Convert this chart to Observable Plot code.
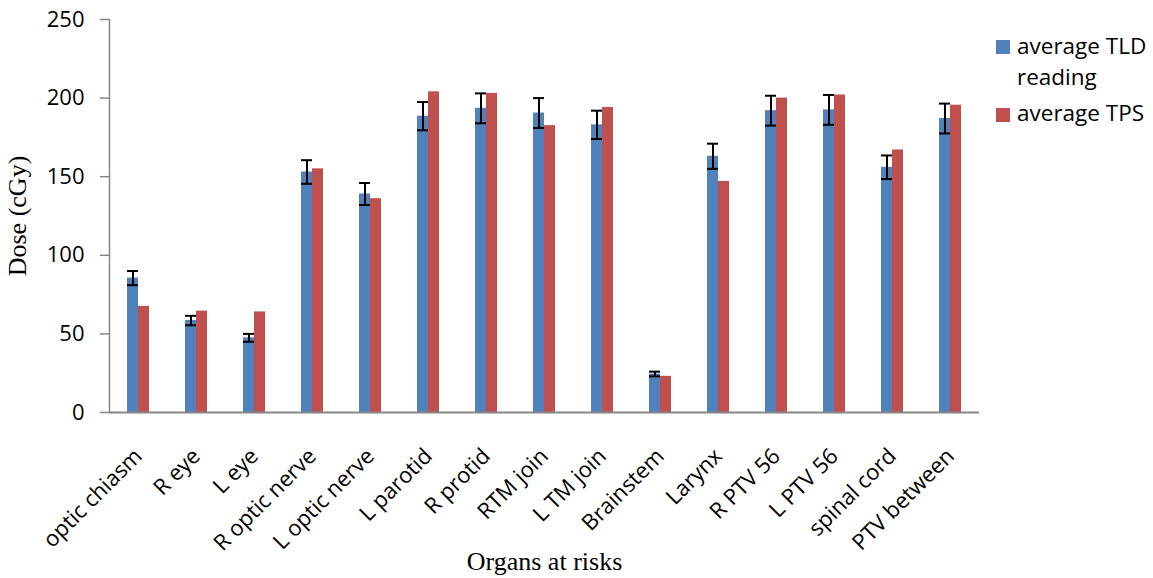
<!DOCTYPE html>
<html>
<head>
<meta charset="utf-8">
<script src="https://cdn.jsdelivr.net/npm/d3@7"></script>
<script src="https://cdn.jsdelivr.net/npm/@observablehq/plot@0.6"></script>
<style>
  html, body { margin: 0; padding: 0; background: #fff; }
  #wrap { position: relative; width: 1153px; height: 578px; overflow: hidden; }
  #legend { position: absolute; left: 996px; top: 30px; font-family: "Open Sans", sans-serif; font-size: 22.5px; line-height: 31px; color: #000; }
  .item { display: flex; align-items: flex-start; }
  .sw { width: 14px; height: 14px; margin-top: 10.25px; margin-right: 7px; flex: none; }
</style>
</head>
<body>
<div id="wrap"><div id="legend"></div></div>
<script>
const organs = ["optic chiasm", "R eye", "L eye", "R optic nerve", "L optic nerve", "L parotid", "R protid", "RTM join", "L TM join", "Brainstem", "Larynx", "R PTV 56", "L PTV 56", "spinal cord", "PTV between"];
const tldValues = [85.5, 58.5, 47.5, 153, 139, 188.5, 193.5, 190.5, 183, 24.5, 163, 192, 192.5, 156, 187];
const tldErrors = [4.5, 3, 2.5, 7.5, 7, 9, 9.5, 9.5, 9, 1.5, 8, 9.5, 9.5, 7.5, 9.5];
const tpsValues = [67.5, 64.5, 64, 155, 136, 204, 203, 182.5, 194, 23, 147, 200, 202, 167, 195.5];
const seriesNames = ["average TLD reading", "average TPS"];
const seriesColors = ["#4F81BD", "#C0504D"];
const legendLabels = ["average TLD<br>reading", "average TPS"];
const yTicks = [0, 50, 100, 150, 200, 250];

const rows = organs.flatMap((o, i) => [
  {organ: o, series: seriesNames[0], value: tldValues[i]},
  {organ: o, series: seriesNames[1], value: tpsValues[i]}
]);
const errRows = organs.map((o, i) => ({organ: o, series: seriesNames[0], lo: tldValues[i] - tldErrors[i], hi: tldValues[i] + tldErrors[i]}));

const axisGray = "#868686";
const chart = Plot.plot({
  width: 1153,
  height: 578,
  marginLeft: 109,
  marginRight: 174,
  marginTop: 19,
  marginBottom: 166,
  style: {background: "transparent", overflow: "visible"},
  fx: {domain: organs, padding: 0},
  x: {type: "band", domain: seriesNames, paddingInner: 0, paddingOuter: 1.5, axis: null},
  y: {domain: [0, 250]},
  color: {domain: seriesNames, range: seriesColors},
  marks: [
    Plot.barY(rows, {fx: "organ", x: "series", y: "value", fill: "series"}),
    Plot.frame({anchor: "left", facetAnchor: "left", stroke: axisGray, strokeWidth: 1.5, strokeOpacity: 1}),
    Plot.ruleY([0], {stroke: axisGray, strokeWidth: 2}),
    Plot.ruleX(errRows, {fx: "organ", x: "series", y1: "lo", y2: "hi", stroke: "black", strokeWidth: 2}),
    Plot.tickY(errRows, {fx: "organ", x: "series", y: "lo", stroke: "black", strokeWidth: 2}),
    Plot.tickY(errRows, {fx: "organ", x: "series", y: "hi", stroke: "black", strokeWidth: 2}),
    Plot.axisY({ticks: yTicks, tickSize: 9, tickPadding: 16, fontSize: 22, fontFamily: "Open Sans", stroke: axisGray, strokeWidth: 1.5, strokeOpacity: 1, fill: "black", label: null}),
    Plot.axisY({ticks: [], label: "Dose (cGy)", labelAnchor: "center", labelArrow: "none", labelOffset: 102, fontSize: 26, fontFamily: "Liberation Serif", fill: "black"}),
    Plot.axisFx({anchor: "bottom", tickRotate: -45, tickSize: 0, tickPadding: 40, fontSize: 22, fontFamily: "Open Sans", fill: "black", label: null}),
    Plot.axisFx({anchor: "bottom", ticks: [], label: "Organs at risks", labelAnchor: "center", labelArrow: "none", labelOffset: 157, fontSize: 26, fontFamily: "Liberation Serif", fill: "black"})
  ]
});
const wrap = document.getElementById("wrap");
wrap.insertBefore(chart, wrap.firstChild);

const legend = document.getElementById("legend");
seriesNames.forEach((s, i) => {
  const item = document.createElement("div");
  item.className = "item";
  if (i > 0) item.style.marginTop = "5.45px";
  item.innerHTML = `<div class="sw" style="background:${seriesColors[i]}"></div><div>${legendLabels[i]}</div>`;
  legend.appendChild(item);
});
</script>
</body>
</html>
